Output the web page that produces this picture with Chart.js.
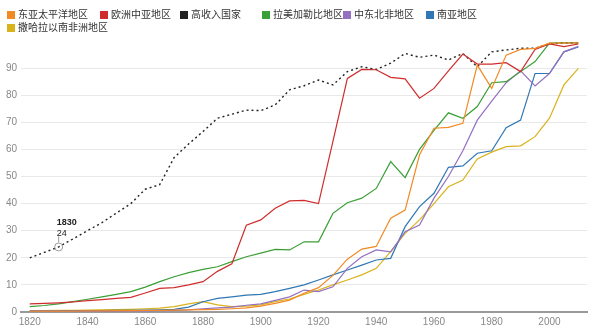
<!DOCTYPE html>
<html>
<head>
<meta charset="utf-8">
<script src="https://cdn.jsdelivr.net/npm/chart.js@4.4.1/dist/chart.umd.min.js"></script>
<style>
  html, body { margin: 0; padding: 0; background: #fff; }
  #wrap { position: relative; width: 600px; height: 329px; }
  #legend { position: absolute; left: 0; top: 0; width: 600px; height: 36px;
    font: 10px "Noto Sans CJK SC", "Liberation Sans", sans-serif; color: #333; }
  .item { position: absolute; height: 12px; line-height: 12px; white-space: nowrap; }
  .item i { display: inline-block; width: 8px; height: 8px; margin-right: 3px; vertical-align: -0.5px; }
</style>
</head>
<body>
<div id="wrap">
  <canvas id="chart" width="600" height="329"></canvas>
  <div id="legend"></div>
</div>
<script>
// Literacy rate by region, 1820-2010 (%)
const years = [1820, 1825, 1830, 1835, 1840, 1845, 1850, 1855, 1860, 1865, 1870, 1875, 1880, 1885,
  1890, 1895, 1900, 1905, 1910, 1915, 1920, 1925, 1930, 1935, 1940, 1945, 1950, 1955, 1960, 1965,
  1970, 1975, 1980, 1985, 1990, 1995, 2000, 2005, 2010];

const eastAsiaPacific = [0.3, 0.3, 0.3, 0.3, 0.4, 0.4, 0.5, 0.5, 0.6, 0.6, 0.7, 0.8, 0.9, 1.0,
  1.2, 1.5, 2.2, 3.2, 4.4, 6.9, 9.0, 13.5, 19.5, 23.2, 24.2, 34.6, 37.6, 58, 67.8, 68.1,
  69.6, 91.1, 82.5, 94.8, 96.9, 97.3, 99.2, 99.2, 99.3];
const europeCentralAsia = [3.0, 3.2, 3.4, 3.7, 4.2, 4.6, 5.0, 5.4, 7.0, 8.7, 9.0, 10.0, 11.2, 15.0,
  17.8, 32.0, 34.0, 38.3, 41.0, 41.2, 40.0, 63.0, 86.2, 89.5, 89.4, 86.6, 86.0, 78.9, 82.5, 89.0,
  95.2, 91.5, 91.5, 92.0, 88.7, 96.9, 98.9, 97.9, 98.9];
const highIncome = [20, 22, 24, 27, 30, 33, 36.5, 40, 45.3, 47, 57, 62, 66.6, 71.5,
  73, 74.5, 74.3, 76.4, 82, 83.5, 85.6, 83.8, 88.7, 90.5, 89.5, 91.8, 95.4, 94, 94.8, 93,
  95.4, 90.5, 96, 96.7, 97.3, 97.3, 99, 99.2, 99.3];
const latinAmerica = [2.0, 2.4, 3.0, 3.8, 4.7, 5.6, 6.5, 7.5, 9.2, 11.2, 13.0, 14.5, 15.7, 16.7,
  18.6, 20.4, 21.7, 23.1, 22.9, 25.9, 25.9, 36.4, 40.3, 42.0, 45.6, 55.5, 49.6, 60.0, 67.0, 73.5,
  71.5, 75.8, 84.6, 85.0, 88.7, 92.4, 99.2, 99.3, 99.3];
const middleEastNorthAfrica = [0.2, 0.2, 0.2, 0.2, 0.3, 0.3, 0.3, 0.4, 0.4, 0.5, 0.6, 0.8, 1.2, 1.5,
  1.8, 2.5, 3.0, 4.3, 5.6, 8.1, 7.5, 9.3, 16.1, 20.4, 22.9, 22.2, 29.6, 32.1, 42.0, 50.0,
  59.5, 70.8, 77.8, 84.6, 89.0, 83.4, 88.0, 96.0, 98.0];
const southAsia = [0.4, 0.4, 0.4, 0.5, 0.5, 0.5, 0.6, 0.6, 0.7, 0.8, 1.0, 1.8, 3.8, 5.0,
  5.6, 6.2, 6.5, 7.5, 8.7, 10.0, 11.8, 13.7, 15.5, 17.3, 19.2, 19.8, 31.5, 38.9, 43.8, 53.4,
  53.9, 58.6, 59.5, 68.0, 70.8, 88.0, 88.0, 96.0, 97.8];
const subSaharanAfrica = [0.5, 0.5, 0.6, 0.6, 0.7, 0.8, 0.9, 1.0, 1.2, 1.4, 2.0, 3.0, 3.8, 2.6,
  2.0, 2.2, 2.6, 3.8, 4.8, 6.5, 8.1, 10.0, 11.8, 13.7, 16.1, 22.3, 29.0, 34.0, 40.0, 46.2,
  48.7, 56.5, 59.0, 61.0, 61.3, 64.7, 71.5, 83.8, 89.9];

const xTicks = [1820, 1840, 1860, 1880, 1900, 1920, 1940, 1960, 1980, 2000];
const yTicks = [0, 10, 20, 30, 40, 50, 60, 70, 80, 90];
const calloutYear = 1830;

const series = [
  { label: '东亚太平洋地区', data: eastAsiaPacific, color: '#f28a24' },
  { label: '欧洲中亚地区', data: europeCentralAsia, color: '#cf2d2d' },
  { label: '高收入国家', data: highIncome, color: '#222222', dash: true },
  { label: '拉美加勒比地区', data: latinAmerica, color: '#3a9f35' },
  { label: '中东北非地区', data: middleEastNorthAfrica, color: '#9470c0' },
  { label: '南亚地区', data: southAsia, color: '#2f78b4' },
  { label: '撒哈拉以南非洲地区', data: subSaharanAfrica, color: '#d9b21c' }
];

// legend slots: [left, top]
const legendSlots = [[7, 8], [100, 8], [180, 8], [262, 8], [343, 8], [426, 8], [7, 21]];

const legendEl = document.getElementById('legend');
series.forEach((s, i) => {
  const item = document.createElement('div');
  item.className = 'item';
  item.style.left = legendSlots[i][0] + 'px';
  item.style.top = legendSlots[i][1] + 'px';
  item.innerHTML = `<i style="background:${s.color}"></i>${s.label}`;
  legendEl.appendChild(item);
});

const datasets = series.map(s => ({
  label: s.label,
  data: years.map((y, i) => ({ x: y, y: s.data[i] })),
  borderColor: s.color,
  backgroundColor: s.color,
  borderWidth: s.dash ? 1.4 : 1.2,
  borderDash: s.dash ? [2, 3] : [],
  pointRadius: 0,
  tension: 0,
  fill: false
}));

// hover-style callout on the high income series
const calloutPlugin = {
  id: 'callout',
  afterDatasetsDraw(chart) {
    const idx = years.indexOf(calloutYear);
    const pt = chart.getDatasetMeta(2).data[idx];
    const ctx = chart.ctx;
    ctx.save();
    ctx.strokeStyle = '#9a9a9a';
    ctx.lineWidth = 1;
    ctx.beginPath();
    ctx.arc(pt.x, pt.y, 4, 0, Math.PI * 2);
    ctx.stroke();
    ctx.beginPath();
    ctx.moveTo(pt.x, pt.y - 4.5);
    ctx.lineTo(pt.x, pt.y - 10.5);
    ctx.stroke();
    ctx.fillStyle = '#222';
    ctx.textAlign = 'left';
    ctx.textBaseline = 'alphabetic';
    ctx.font = 'bold 9px "Liberation Sans", Arial, sans-serif';
    ctx.fillText(String(calloutYear), pt.x - 2, pt.y - 22);
    ctx.font = '9px "Liberation Sans", Arial, sans-serif';
    ctx.fillText(String(highIncome[idx]), pt.x - 2, pt.y - 11);
    ctx.restore();
  }
};

const tickFont = { family: '"Liberation Sans", Arial, sans-serif', size: 10 };

new Chart(document.getElementById('chart'), {
  type: 'line',
  data: { datasets },
  options: {
    responsive: false,
    animation: false,
    layout: { padding: { top: 41, left: 2, right: 13, bottom: -3 } },
    plugins: { legend: { display: false }, tooltip: { enabled: false } },
    scales: {
      x: {
        type: 'linear',
        min: 1817,
        max: 2013,
        afterBuildTicks: axis => { axis.ticks = xTicks.map(v => ({ value: v })); },
        grid: { display: false, drawTicks: false },
        border: { display: true, color: '#9a9a9a', width: 2 },
        ticks: { color: '#888', font: tickFont, padding: 4, maxRotation: 0, autoSkip: false,
          callback: v => String(v) }
      },
      y: {
        min: 0,
        max: 100,
        afterBuildTicks: axis => { axis.ticks = yTicks.map(v => ({ value: v })); },
        grid: { color: '#e8e8e8', drawTicks: false },
        border: { display: false },
        ticks: { color: '#888', font: tickFont, padding: 4, callback: v => String(v) }
      }
    }
  },
  plugins: [calloutPlugin]
});
</script>
</body>
</html>
